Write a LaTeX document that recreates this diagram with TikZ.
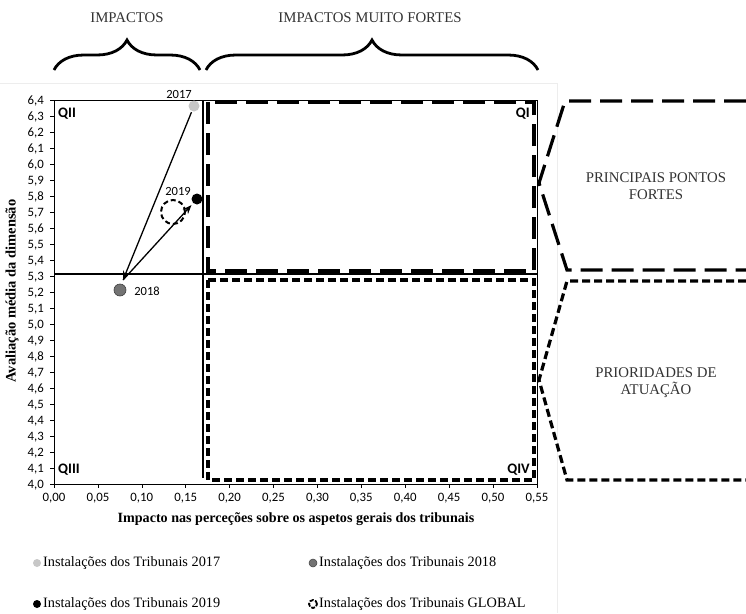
\documentclass[tikz,border=0pt]{standalone}
\usepackage{fontspec}
\setmainfont{Liberation Serif}
\newfontfamily\calib{Carlito}
\usetikzlibrary{arrows.meta,decorations.pathreplacing,calc}
\tikzset{
  tick label/.style={font=\calib\fontsize{12.8}{14}\selectfont, inner sep=1pt},
  year label/.style={font=\calib\fontsize{12.5}{14}\selectfont, inner sep=1pt},
  quad label/.style={font=\calib\bfseries\fontsize{14.5}{16}\selectfont, inner sep=0pt},
  longdash/.style={line width=3.2pt, dash pattern=on 22pt off 9pt},
  shortdash/.style={line width=3.2pt, dash pattern=on 8pt off 4pt},
  thickrule/.style={line width=2.5pt},
  trend/.style={line width=1.3pt, -{Stealth[length=9pt,width=7pt]}},
  head label/.style={font=\fontsize{14.8}{17}\selectfont, text=black!80},
  side label/.style={font=\fontsize{14.8}{17}\selectfont, text=black!80, align=center},
  legend text/.style={font=\fontsize{14.3}{16}\selectfont, anchor=west, inner sep=0pt},
  pt/.style={circle, inner sep=0pt, minimum size=#1},
  brace/.style={decorate, decoration={brace, amplitude=30pt, aspect=0.5}, line width=2.8pt}
}
\begin{document}
\begin{tikzpicture}[x=1pt,y=-1pt]
\useasboundingbox (0,0) rectangle (746,613);
\fill[white] (0,0) rectangle (746,613);

% faint frame of the chart object
\draw[black!7, line width=0.6pt] (0,83) -- (557,83) -- (557,613);

% headings and braces
\node[head label] (hImp) at (127,18) {IMPACTOS};
\node[head label] (hMF) at (370,18) {IMPACTOS MUITO FORTES};
\draw[brace] (54,70) -- (200,70);
\draw[brace] (206,70) -- (538,70);

% plot frame
\draw[line width=0.9pt] (54,100) rectangle (537,484);

% y ticks and labels
\foreach \k in {0,...,24} {
  \pgfmathsetmacro{\yy}{100+16*\k}
  \pgfmathsetmacro{\lab}{64-\k}
  \pgfmathtruncatemacro{\ip}{\lab/10}
  \pgfmathtruncatemacro{\dp}{\lab-10*\ip}
  \draw[line width=0.6pt] (50,\yy) -- (54,\yy);
  \node[tick label, anchor=east] (yt\k) at (45,\yy) {\ip,\dp};
}
% x ticks and labels
\foreach \k/\lab in {0/{0,00},1/{0,05},2/{0,10},3/{0,15},4/{0,20},5/{0,25},6/{0,30},7/{0,35},8/{0,40},9/{0,45},10/{0,50},11/{0,55}} {
  \pgfmathsetmacro{\xx}{54+43.9*\k}
  \draw[line width=0.6pt] (\xx,484) -- (\xx,488);
  \node[tick label] (xt\k) at (\xx,498) {\lab};
}

% axis titles
\node[font=\bfseries\fontsize{14.1}{16}\selectfont] (xtitle) at (296,519)
  {Impacto nas perceções sobre os aspetos gerais dos tribunais};
\node[font=\bfseries\fontsize{14.5}{16}\selectfont, rotate=90] (ytitle) at (12,291)
  {Avaliação média da dimensão};

% quadrant boxes
\draw[longdash] (208,102) rectangle (534,271);
\draw[shortdash] (208,280) rectangle (534,480);

% quadrant dividers
\draw[thickrule] (203,100) -- (203,478);
\draw[thickrule] (54,274) -- (537,274);

% quadrant labels
\node[quad label, anchor=west] (q2) at (58,114) {QII};
\node[quad label, anchor=east] (q1) at (530,114) {QI};
\node[quad label, anchor=west] (q3) at (58,470) {QIII};
\node[quad label, anchor=east] (q4) at (530,470) {QIV};

% side brackets
\draw[longdash] (746,101) -- (565,101) -- (539,183) -- (567,270) -- (746,270);
\draw[shortdash] (746,281) -- (567,281) -- (539,380) -- (567,480) -- (746,480);
\node[side label] (pf) at (656,186) {PRINCIPAIS PONTOS\\FORTES};
\node[side label] (pa) at (656,383) {PRIORIDADES DE\\ATUAÇÃO};

% data points
\node[pt=24pt, draw=black, line width=2pt, dash pattern=on 5pt off 3pt] (pG) at (173,212) {};
\node[pt=11pt, fill=black!22] (p17) at (194,106) {};
\node[pt=12pt, fill=black!55, draw=black!75, line width=0.6pt] (p18) at (120,290) {};
\node[pt=11pt, fill=black] (p19) at (197,199) {};
\node[year label] (l17) at (179,94) {2017};
\node[year label] (l18) at (147,291) {2018};
\node[year label] (l19) at (178,191) {2019};

% trajectory
\coordinate (m18) at ($(p18.center)+(3,-10)$);
\draw[trend, shorten <=1pt] (p17) -- (m18);
\draw[trend, shorten >=2.5pt] (m18) -- (p19);

% legend
\node[pt=8pt, fill=black!22] (g17) at (37,563) {};
\node[legend text] (t17) at (43,563) {Instalações dos Tribunais 2017};
\node[pt=8pt, fill=black!55, draw=black!75, line width=0.5pt] (g18) at (313,563) {};
\node[legend text] (t18) at (319,563) {Instalações dos Tribunais 2018};
\node[pt=8pt, fill=black] (g19) at (37,604) {};
\node[legend text] (t19) at (43,604) {Instalações dos Tribunais 2019};
\node[pt=8pt, draw=black, line width=1.8pt, dash pattern=on 4pt off 1.5pt] (gG) at (313,604) {};
\node[legend text] (tG) at (319,604) {Instalações dos Tribunais GLOBAL};
\end{tikzpicture}
\end{document}
